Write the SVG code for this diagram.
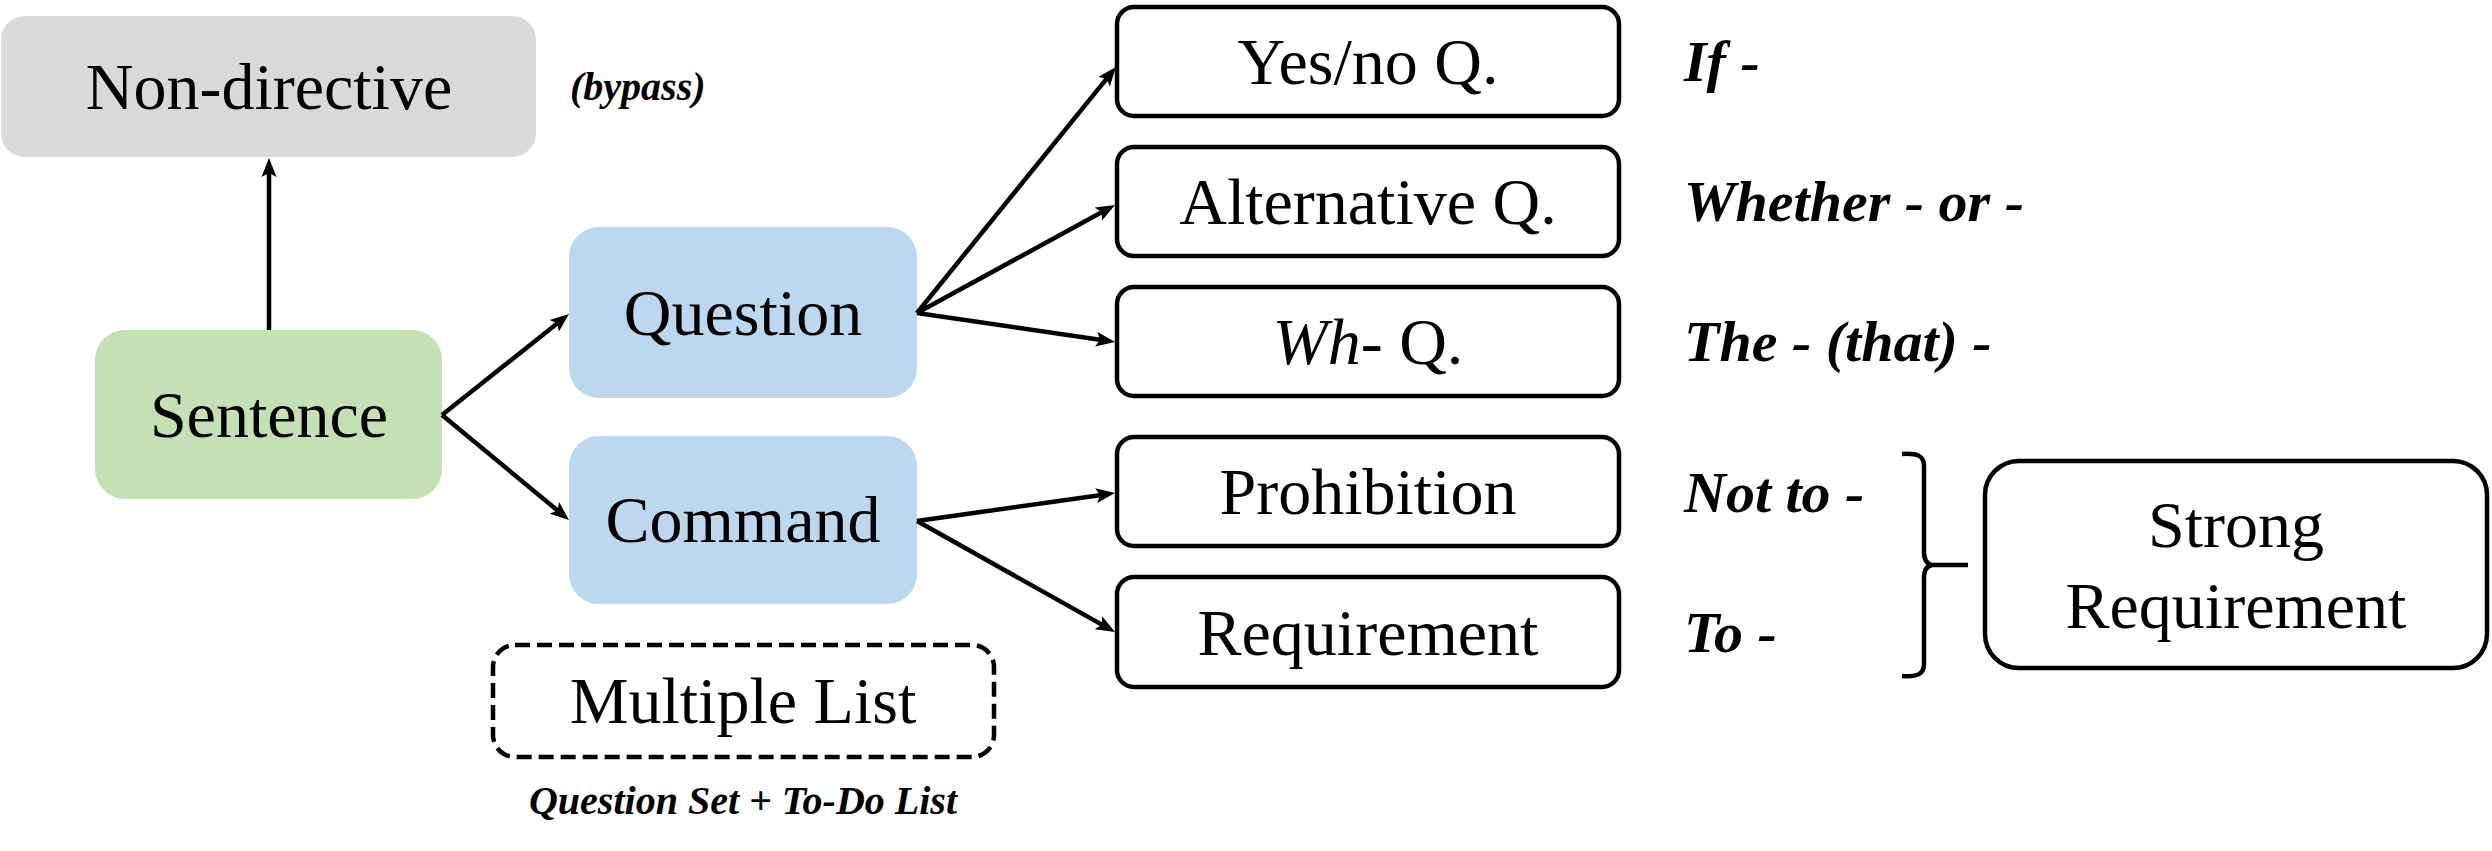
<svg xmlns="http://www.w3.org/2000/svg" width="2492" height="851" viewBox="0 0 2492 851">
<style>
.t{font-family:"Liberation Serif","Times New Roman",serif;font-size:66px;fill:#000;text-anchor:middle}
.bi{font-family:"Liberation Serif","Times New Roman",serif;font-weight:bold;font-style:italic;fill:#000}
.lb{font-size:58px}
.ob{fill:#fff;stroke:#000;stroke-width:4.5}
.c{stroke:#000;stroke-width:4.5;fill:none}
</style>
<defs>
<marker id="ah" markerUnits="userSpaceOnUse" markerWidth="20" markerHeight="16" refX="9" refY="8" orient="auto" viewBox="0 0 20 16">
<path d="M0,0.5 L19,8 L0,15.5 L4,8 z" fill="#000"/>
</marker>
</defs>
<rect width="2492" height="851" fill="#fff"/>
<g id="nondirective">
<rect x="1" y="16" width="535" height="141" rx="24" fill="#D9D9D9"/>
<text class="t" x="269" y="109">Non-directive</text>
</g>
<text class="bi" x="570" y="100" font-size="40">(bypass)</text>
<g id="sentence">
<rect x="95" y="330" width="347" height="169" rx="30" fill="#C5E0B4"/>
<text class="t" x="269" y="437">Sentence</text>
</g>
<g id="question">
<rect x="569" y="227" width="348" height="171" rx="30" fill="#BDD7EE"/>
<text class="t" x="743" y="335">Question</text>
</g>
<g id="command">
<rect x="569" y="436" width="348" height="168" rx="30" fill="#BDD7EE"/>
<text class="t" x="743" y="542">Command</text>
</g>
<g id="multiple">
<rect x="493" y="645" width="501" height="112" rx="22" fill="none" stroke="#000" stroke-width="4.5" stroke-dasharray="15 7"/>
<text class="t" x="743" y="723">Multiple List</text>
</g>
<text class="bi" x="743" y="814" font-size="40" text-anchor="middle">Question Set + To-Do List</text>
<g id="yesno">
<rect class="ob" x="1117" y="7" width="502" height="109" rx="17"/>
<text class="t" x="1368" y="84">Yes/no Q.</text>
</g>
<g id="alternative">
<rect class="ob" x="1117" y="147" width="502" height="109" rx="17"/>
<text class="t" x="1368" y="224">Alternative Q.</text>
</g>
<g id="wh">
<rect class="ob" x="1117" y="287" width="502" height="109" rx="17"/>
<text class="t" x="1368" y="364"><tspan font-style="italic">Wh</tspan>- Q.</text>
</g>
<g id="prohibition">
<rect class="ob" x="1117" y="437" width="502" height="109" rx="17"/>
<text class="t" x="1368" y="514">Prohibition</text>
</g>
<g id="requirement">
<rect class="ob" x="1117" y="577" width="502" height="110" rx="17"/>
<text class="t" x="1368" y="655">Requirement</text>
</g>
<g id="strong">
<rect class="ob" x="1985" y="461" width="502" height="207" rx="34"/>
<text class="t" x="2236" y="547">Strong</text>
<text class="t" x="2236" y="628">Requirement</text>
</g>
<g id="labels">
<text class="bi lb" x="1684" y="81">If -</text>
<text class="bi lb" x="1684" y="221">Whether - or -</text>
<text class="bi lb" x="1684" y="361">The - (that) -</text>
<text class="bi lb" x="1684" y="512">Not to -</text>
<text class="bi lb" x="1684" y="652">To -</text>
</g>
<g id="connectors">
<line class="c" x1="269" y1="330" x2="269" y2="168" marker-end="url(#ah)"/>
<line class="c" x1="442" y1="415" x2="561.2" y2="320.2" marker-end="url(#ah)"/>
<line class="c" x1="442" y1="415" x2="561.3" y2="513.6" marker-end="url(#ah)"/>
<line class="c" x1="917" y1="313" x2="1109.7" y2="74.8" marker-end="url(#ah)"/>
<line class="c" x1="917" y1="313" x2="1106.2" y2="209.8" marker-end="url(#ah)"/>
<line class="c" x1="917" y1="313" x2="1105.1" y2="340.5" marker-end="url(#ah)"/>
<line class="c" x1="917" y1="521" x2="1105.1" y2="494.4" marker-end="url(#ah)"/>
<line class="c" x1="917" y1="521" x2="1106.3" y2="627.1" marker-end="url(#ah)"/>
<path class="c" d="M1902,454 C1918,453 1924,456 1924,466 L1924,552 C1924,560 1927,564 1932,565 L1968,565 M1932,565 C1927,566 1924,570 1924,578 L1924,664 C1924,674 1918,677 1902,676"/>
</g>
</svg>
